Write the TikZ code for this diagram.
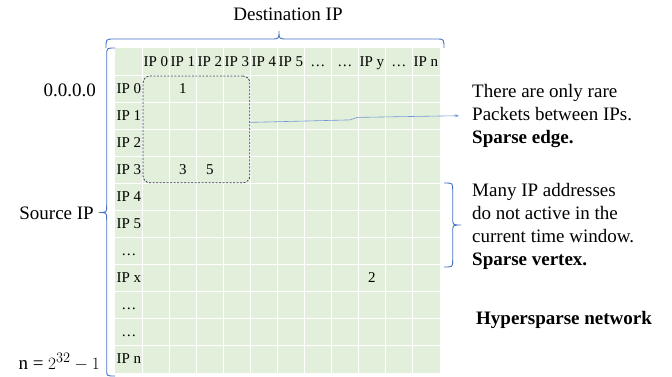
\documentclass[tikz,border=0pt]{standalone}
\usepackage{fontspec}
\setmainfont{Liberation Serif}
\usepackage{tikz}
\usetikzlibrary{matrix}
\usetikzlibrary{fit,arrows.meta}
\definecolor{cellgreen}{HTML}{E2EFDA}
\definecolor{braceblue}{HTML}{4472C4}
\definecolor{boxgray}{HTML}{333F50}
\definecolor{linkblue}{HTML}{7397D6}
\tikzset{
iptable/.style={
  matrix of nodes,
  row sep=-\pgflinewidth,
  column sep=-\pgflinewidth,
  inner sep=0pt,
  nodes={rectangle,fill=cellgreen,minimum width=27.4pt,minimum height=27.4pt,
    inner sep=0pt,text height=10pt,text depth=0pt,
    font=\fontsize{15}{18}\selectfont},
  nodes in empty cells
},
ipbrace/.style={braceblue,line width=0.9pt},
sidetext/.style={font=\fontsize{19}{22.8}\selectfont,inner sep=0pt},
note/.style={sidetext,align=left},
}

\begin{document}
\begin{tikzpicture}[x=1pt,y=-1pt]
\useasboundingbox (0,0) rectangle (672,377);
\matrix (mat) at (115,48) [iptable,anchor=north west]
{
 & IP 0 & IP 1 & IP 2 & IP 3 & IP 4 & IP 5 & … & … & IP y & … & IP n \\
IP 0 & & 1 & & & & & & & & & \\
IP 1 & & & & & & & & & & & \\
IP 2 & & & & & & & & & & & \\
IP 3 & & 3 & 5 & & & & & & & & \\
IP 4 & & & & & & & & & & & \\
IP 5 & & & & & & & & & & & \\
… & & & & & & & & & & & \\
IP x & & & & & & & & & 2 & & \\
… & & & & & & & & & & & \\
… & & & & & & & & & & & \\
IP n & & & & & & & & & & & \\
};
% the matrix rules
\foreach \x in {1,...,11}
{
  \draw[white,line width=1.3pt]
    (mat-1-\x.north east) -- (mat-12-\x.south east);
}
\foreach \x in {1,...,11}
{
  \draw[white,line width=1.3pt]
    (mat-\x-1.south west) -- (mat-\x-12.south east);
}
% the dense block
\node[fit=(mat-2-2)(mat-5-5),inner sep=-1pt,draw=boxgray,line width=0.8pt,
  dash pattern=on 2pt off 1.5pt,rounded corners=7pt] (dense) {};
% the braces
\draw[ipbrace] (106,48) .. controls (106,39) .. (114,39) -- (271,39)
  .. controls (279,39) .. (279,31) .. controls (279,39) .. (287,39)
  -- (436,39) .. controls (444,39) .. (444,48);
\draw[ipbrace] (115,48) .. controls (106.7,48) .. (106.7,55) -- (106.7,205.5)
  .. controls (106.7,212.5) .. (99,212.5) .. controls (106.7,212.5) .. (106.7,219.5)
  -- (106.7,370) .. controls (106.7,376) .. (115,376);
\draw[ipbrace] (444,183) .. controls (452.7,183) .. (452.7,190) -- (452.7,218)
  .. controls (452.7,225) .. (461,225) .. controls (452.7,225) .. (452.7,232)
  -- (452.7,260) .. controls (452.7,267) .. (444,267);
% the labels
\node[sidetext,anchor=base] (dst) at (288,20.7) {Destination IP};
\node[sidetext,anchor=base east] (src) at (94,219.3) {Source IP};
\node[sidetext,anchor=base east] (first) at (96,96.7) {0.0.0.0};
\node[sidetext,anchor=base east] (last) at (100,369) {n = $2^{32} - 1$};
\node[note,anchor=base west] (edgenote) at (472,143)
  {There are only rare\\Packets between IPs.\\\textbf{Sparse edge.}};
\node[note,anchor=base west] (vertexnote) at (472,265)
  {Many IP addresses\\do not active in the\\current time window.\\\textbf{Sparse vertex.}};
\node[sidetext,anchor=base west] (title) at (476,324) {\textbf{Hypersparse network}};
% the arrow
\draw[linkblue,line width=0.6pt,-{Stealth[length=4pt,width=3pt]}]
  ([yshift=7pt]dense.east) -- ++(100,-2.5) -- ++(7,-2.5) -- ([xshift=-13pt]edgenote.west);
\end{tikzpicture}
\end{document}
